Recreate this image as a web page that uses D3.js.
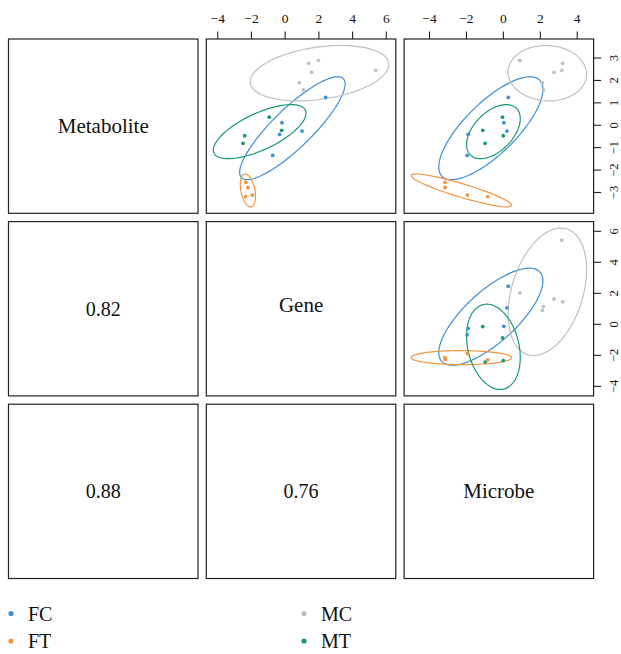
<!DOCTYPE html>
<html>
<head>
<meta charset="utf-8">
<script src="https://cdn.jsdelivr.net/npm/d3@7"></script>
<style>
  body { margin: 0; background: #fff; }
  text { font-family: "Liberation Serif", "DejaVu Serif", serif; fill: #111; }
</style>
</head>
<body>
<svg id="chart" width="621" height="654"></svg>
<script>
// variables, in panel order
const variables = ["Metabolite", "Gene", "Microbe"];
const groups = ["FC", "FT", "MC", "MT"];
const groupColors = ["#3e8fd4", "#f39440", "#c0c0c0", "#1a9a74"];

// one entry per sample
const sampleGroup = ["FC","FC","FC","FC","FC", "FT","FT","FT","FT",
                     "MC","MC","MC","MC","MC","MC", "MT","MT","MT","MT"];
const metabolite = [1.22, 0.09, -0.28, -0.43, -1.37,
                    -2.57, -2.80, -3.14, -3.21,
                    2.74, 2.87, 2.34, 2.43, 1.88, 1.55,
                    0.34, -0.25, -0.49, -0.83];
const gene = [2.43, -0.16, 1.03, -0.30, -0.71,
              -2.30, -2.18, -1.92, -2.32,
              1.42, 2.00, 1.60, 5.40, 0.87, 1.11,
              -0.91, -0.18, -2.37, -2.47];
const microbe = [0.29, 0.05, 0.22, -1.88, -1.94,
                 -3.13, -3.13, -1.92, -0.82,
                 3.24, 0.92, 2.77, 3.19, 2.14, 2.19,
                 -0.02, -1.09, 0.02, -0.96];

// lower panels: [row, col, label]
const correlations = [[1, 0, "0.82"], [2, 0, "0.88"], [2, 1, "0.76"]];

const tickValues = [
  [-3, -2, -1, 0, 1, 2, 3],
  [-4, -2, 0, 2, 4, 6],
  [-4, -2, 0, 2, 4]
];

const columns = [metabolite, gene, microbe];
const level = 2.4477; // sqrt(qchisq(0.95, 2))

const svg = d3.select("#chart");

// layout
const leftEdge = 8.5, topEdge = 39;
const pw = 189.5, ph = 174.3, gap = 8.3;
const px = i => leftEdge + i * (pw + gap);
const py = i => topEdge + i * (ph + gap);

const byGroup = groups.map(g => {
  const idx = sampleGroup.map((s, i) => s === g ? i : -1).filter(i => i >= 0);
  return { g, idx };
});

function ellipse(idx, a, b) {
  const xs = idx.map(i => columns[a][i]);
  const ys = idx.map(i => columns[b][i]);
  const n = xs.length;
  const mx = d3.mean(xs), my = d3.mean(ys);
  let sxx = 0, syy = 0, sxy = 0;
  for (let k = 0; k < n; k++) {
    sxx += (xs[k] - mx) ** 2;
    syy += (ys[k] - my) ** 2;
    sxy += (xs[k] - mx) * (ys[k] - my);
  }
  sxx /= n - 1; syy /= n - 1; sxy /= n - 1;
  // cholesky
  const l11 = Math.sqrt(sxx), l21 = sxy / l11, l22 = Math.sqrt(Math.max(syy - l21 * l21, 0));
  return d3.range(0, 101).map(k => {
    const t = 2 * Math.PI * k / 100;
    const u = Math.cos(t) * level, v = Math.sin(t) * level;
    return [mx + l11 * u, my + l21 * u + l22 * v];
  });
}

// domain of each variable: ellipse extents + 4%
const domains = columns.map(col => {
  let lo = Infinity, hi = -Infinity;
  byGroup.forEach(({ idx }) => {
    const v = idx.map(i => col[i]);
    const m = d3.mean(v), s = d3.deviation(v);
    lo = Math.min(lo, m - level * s);
    hi = Math.max(hi, m + level * s);
  });
  const pad = (hi - lo) * 0.04;
  return [lo - pad, hi + pad];
});

const xScales = domains.map((d, j) => d3.scaleLinear().domain(d).range([px(j), px(j) + pw]));
const yScales = domains.map((d, i) => d3.scaleLinear().domain(d).range([py(i) + ph, py(i)]));

const fmt = v => String(v).replace("-", "\u2212");

for (let i = 0; i < 3; i++) {
  for (let j = 0; j < 3; j++) {
    const g = svg.append("g");
    if (i < j) {
      const clipId = `clip-${i}-${j}`;
      g.append("clipPath").attr("id", clipId)
        .append("rect").attr("x", px(j)).attr("y", py(i)).attr("width", pw).attr("height", ph);
      const inner = g.append("g").attr("clip-path", `url(#${clipId})`);
      const line = d3.line().x(d => xScales[j](d[0])).y(d => yScales[i](d[1]));
      byGroup.forEach(({ idx }, k) => {
        inner.append("path")
          .attr("d", line(ellipse(idx, j, i)))
          .attr("fill", "none")
          .attr("stroke", groupColors[k])
          .attr("stroke-width", 1.2);
      });
      inner.selectAll("circle.pt")
        .data(d3.range(sampleGroup.length))
        .join("circle")
        .attr("class", "pt")
        .attr("cx", k => xScales[j](columns[j][k]))
        .attr("cy", k => yScales[i](columns[i][k]))
        .attr("r", 1.9)
        .attr("fill", k => groupColors[groups.indexOf(sampleGroup[k])]);
    } else if (i === j) {
      g.append("text")
        .attr("x", px(j) + pw / 2)
        .attr("y", py(i) + ph / 2 + (i === 1 ? -3.5 : 0))
        .attr("text-anchor", "middle")
        .attr("dominant-baseline", "central")
        .style("font-size", "21px")
        .text(variables[i]);
    } else {
      const c = correlations.find(d => d[0] === i && d[1] === j);
      g.append("text")
        .attr("x", px(j) + pw / 2)
        .attr("y", py(i) + ph / 2)
        .attr("text-anchor", "middle")
        .attr("dominant-baseline", "central")
        .style("font-size", "20px")
        .text(c[2]);
    }
    g.append("rect")
      .attr("x", px(j)).attr("y", py(i))
      .attr("width", pw).attr("height", ph)
      .attr("fill", "none")
      .attr("stroke", "#222")
      .attr("stroke-width", 1.2);
  }
}

// top axes on columns 1 and 2
[1, 2].forEach(j => {
  const ax = svg.append("g")
    .attr("transform", `translate(0,${py(0)})`)
    .call(d3.axisTop(xScales[j]).tickValues(tickValues[j]).tickFormat(fmt)
      .tickSize(7.5).tickSizeOuter(0).tickPadding(8.5))
    .attr("font-family", null).attr("font-size", null);
  ax.select(".domain").remove();
  ax.selectAll(".tick line").attr("stroke", "#222").attr("stroke-width", 1.1);
  ax.selectAll("text").style("font-size", "13.5px");
});

// right axes on rows 0 and 1
[0, 1].forEach(i => {
  const ax = svg.append("g")
    .attr("transform", `translate(${px(2) + pw},0)`)
    .call(d3.axisRight(yScales[i]).tickValues(tickValues[i]).tickFormat(fmt)
      .tickSize(7.5).tickSizeOuter(0))
    .attr("font-family", null).attr("font-size", null);
  ax.select(".domain").remove();
  ax.selectAll(".tick line").attr("stroke", "#222").attr("stroke-width", 1.1);
  ax.selectAll("text")
    .attr("x", null).attr("dy", null)
    .attr("transform", "translate(20.5,0) rotate(-90)")
    .attr("text-anchor", "middle")
    .attr("dominant-baseline", "central")
    .style("font-size", "12.5px");
});

// legend
const legendCols = [[0, 1], [2, 3]];
const legendX = d3.scaleOrdinal().domain([0, 1]).range([11, 304]);
const legendY = d3.scaleOrdinal().domain([0, 1]).range([613.5, 641]);
legendCols.forEach((col, c) => {
  col.forEach((k, r) => {
    const lg = svg.append("g").attr("transform", `translate(${legendX(c)},${legendY(r)})`);
    lg.append("circle").attr("r", 2.6).attr("fill", groupColors[k]);
    lg.append("text")
      .attr("x", 17)
      .attr("dominant-baseline", "central")
      .style("font-size", "20px")
      .text(groups[k]);
  });
});
</script>
</body>
</html>
